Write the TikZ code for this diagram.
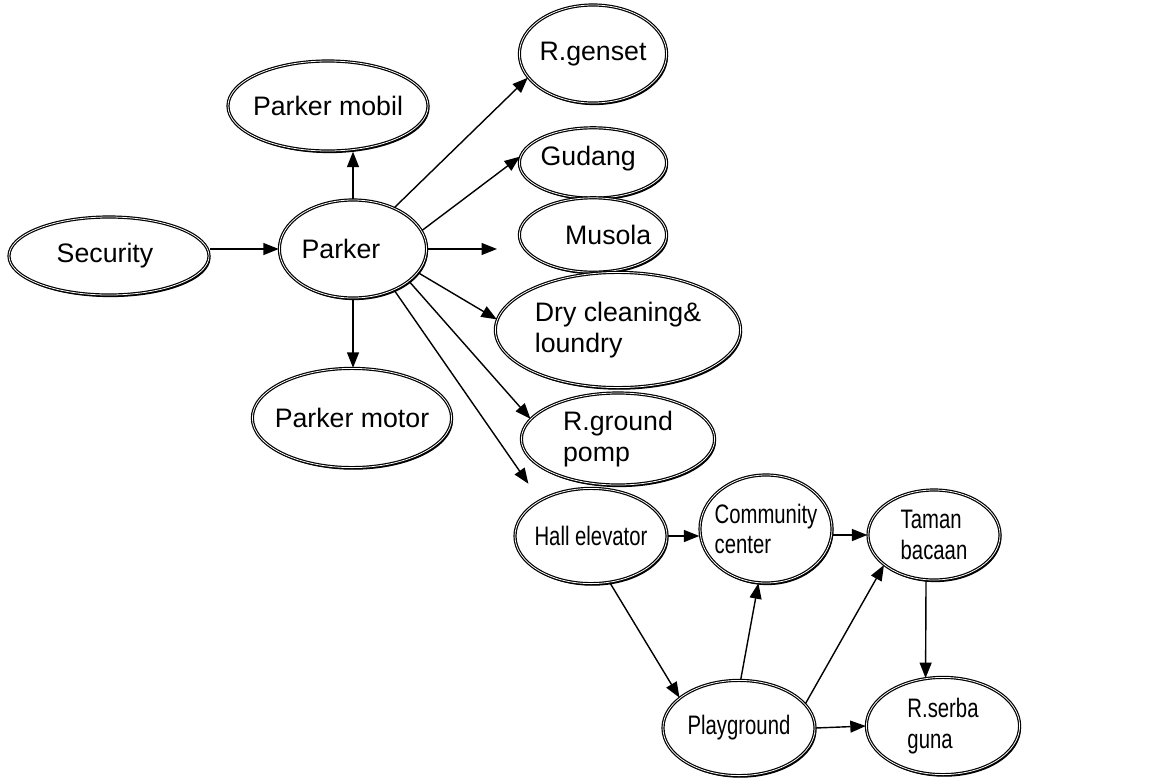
\documentclass[tikz,border=0pt]{standalone}
\usepackage{fontspec}
\setmainfont{Liberation Sans}
\newfontfamily\narrowfont[FakeStretch=0.76]{Liberation Sans}
\usetikzlibrary{shapes, arrows.meta, positioning, shadows}

\begin{document}
\begin{tikzpicture}[
        x=0.025cm, y=-0.025cm,
        room/.style 2 args={
            ellipse, draw, double, line width=0.85pt, double distance=0.55pt,
            fill=white, inner sep=0pt, minimum width=#1, minimum height=#2,
            drop shadow={shadow xshift=1pt, shadow yshift=-1.5pt, opacity=1, fill=black}
        },
        roomtext/.style={align=left, inner sep=0pt, font=\fontsize{19}{21.5}\selectfont},
        narrowtext/.style={roomtext, font=\narrowfont\fontsize{19}{21.5}\selectfont},
        arrow/.style={-{Triangle[length=11pt, width=8.5pt]}, line width=1pt}
    ]
        \useasboundingbox (0,0) rectangle (1176,777);

        % Rooms
        \node[room={5cm}{1.95cm}, label={[roomtext, xshift=-0.1cm]center:Security}] (security) at (109,256) {};
        \node[room={3.68cm}{2.45cm}, label={[roomtext, xshift=-0.3cm]center:Parker}] (parker) at (353,249) {};
        \node[room={5cm}{2.25cm}, label={[roomtext]center:Parker mobil}] (mobil) at (328,106) {};
        \node[room={4.98cm}{2.48cm}, label={[roomtext]center:Parker motor}] (motor) at (352,418) {};
        \node[room={3.68cm}{2.45cm}, label={[roomtext]center:R.genset}] (rgenset) at (593,54) {};
        \node[room={3.68cm}{1.76cm}, label={[roomtext, xshift=-0.12cm, yshift=0.1cm]center:Gudang}] (gudang) at (593,163) {};
        \node[room={3.68cm}{1.86cm}, label={[roomtext, xshift=0.38cm]center:Musola}] (musola) at (593,235) {};
        \node[room={6.13cm}{2.88cm}, label={[roomtext]center:{Dry cleaning\&\\ loundry}}] (dry) at (618,330) {};
        \node[room={4.83cm}{2.3cm}, label={[roomtext]center:{R.ground\\pomp}}] (rground) at (618,439) {};
        \node[room={3.8cm}{2.38cm}, label={[narrowtext]center:Hall elevator}] (hall) at (591,536) {};
        \node[room={3.3cm}{2.7cm}, label={[narrowtext]center:{Community\\center}}] (community) at (766,529) {};
        \node[room={3.3cm}{2.25cm}, label={[narrowtext]center:{Taman\\bacaan}}] (taman) at (934,535) {};
        \node[room={3.8cm}{2.38cm}, label={[narrowtext]center:Playground}] (playground) at (739,728) {};
        \node[room={3.83cm}{2.43cm}, label={[narrowtext]center:{R.serba\\guna}}] (rserba) at (943,726) {};

        % Connectors
        \coordinate (musolaend) at (497,249);
        \draw[arrow] (security.east |- parker.west) -- (parker.west);
        \draw[arrow] (parker.north) -- (parker.north |- mobil.south);
        \draw[arrow] (parker.south) -- (parker.south |- motor.north);
        \draw[arrow] (parker.45) -- (rgenset.200);
        \draw[arrow] (parker.15) -- (gudang.175);
        \draw[arrow] (parker.east) -- (musolaend);
        \draw[arrow] (parker.-20) -- (dry.175);
        \draw[arrow] (parker.-30) -- (rground.167);
        \draw[arrow, shorten >=0.5cm] (parker.-45) -- (hall.145);
        \draw[arrow] (hall.east) -- (hall.east -| community.west);
        \draw[arrow] (community.east |- taman.west) -- (taman.west);
        \draw[arrow] (hall.-68) -- (playground.153);
        \draw[arrow] (playground.88) -- (community.-98);
        \draw[arrow] (playground.20) -- (taman.-149);
        \draw[arrow] (taman.-100) -- (rserba.110);
        \draw[arrow] (playground.east) -- (rserba.west);

    \end{tikzpicture}
\end{document}
